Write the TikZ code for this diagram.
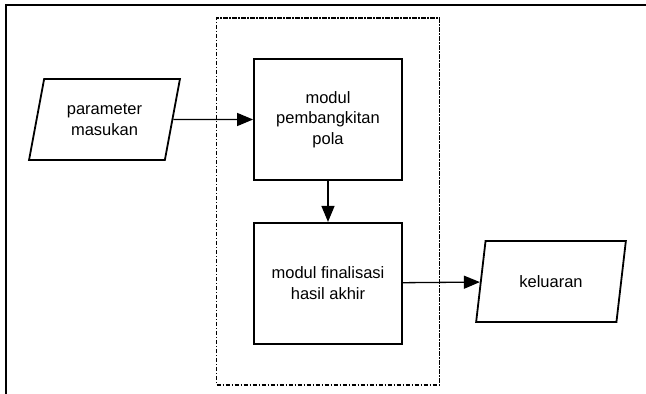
\documentclass[tikz,border=0pt]{standalone}
\usepackage{fontspec}
\setmainfont{Liberation Sans}
\usepackage{tikz}
\usetikzlibrary{positioning,fit,shapes.geometric,arrows.meta}
\tikzstyle{modbox} = [draw=black, fill=white, line width=1.8pt,
    rectangle, minimum width=148pt, minimum height=121pt, align=center,
    font=\fontsize{16.5}{20.7}\selectfont]
\tikzstyle{iobox} = [draw=black, fill=white, line width=1.8pt,
    trapezium, trapezium left angle=75, trapezium right angle=105,
    trapezium stretches=true, minimum width=151pt, minimum height=81pt,
    align=center, font=\fontsize{16.5}{20.7}\selectfont]
\tikzstyle{flow} = [line width=1.3pt, -{Triangle[length=16pt,width=13pt]}]

\begin{document}
\begin{tikzpicture}[x=1pt,y=-1pt]
                \useasboundingbox (0,0) rectangle (646,394);
                \clip (0,0) rectangle (646,394);
                \draw[line width=1.8pt] (6,400) |- (650,5);
                \node [modbox] (box1) at (328,119.5) {modul\\pembangkitan\\pola};
                \node [modbox, below=41pt of box1] (box2) {modul finalisasi\\hasil akhir};
                \node [draw, line width=1.6pt, dash pattern=on 4.5pt off 1.5pt on 1.5pt off 1.5pt,
                    inner xsep=36.5pt, inner ysep=40pt, fit=(box1)(box2)] (group) {};
                \node [iobox] (input) at (104.5,119.5) {parameter\\masukan};
                \node [iobox] (output) at (551,281.5) {keluaran};
                \draw [flow] (input) -- (box1);
                \draw [flow] (box1) -- (box2);
                \draw [flow] (box2) -- (output);
            \end{tikzpicture}
\end{document}
